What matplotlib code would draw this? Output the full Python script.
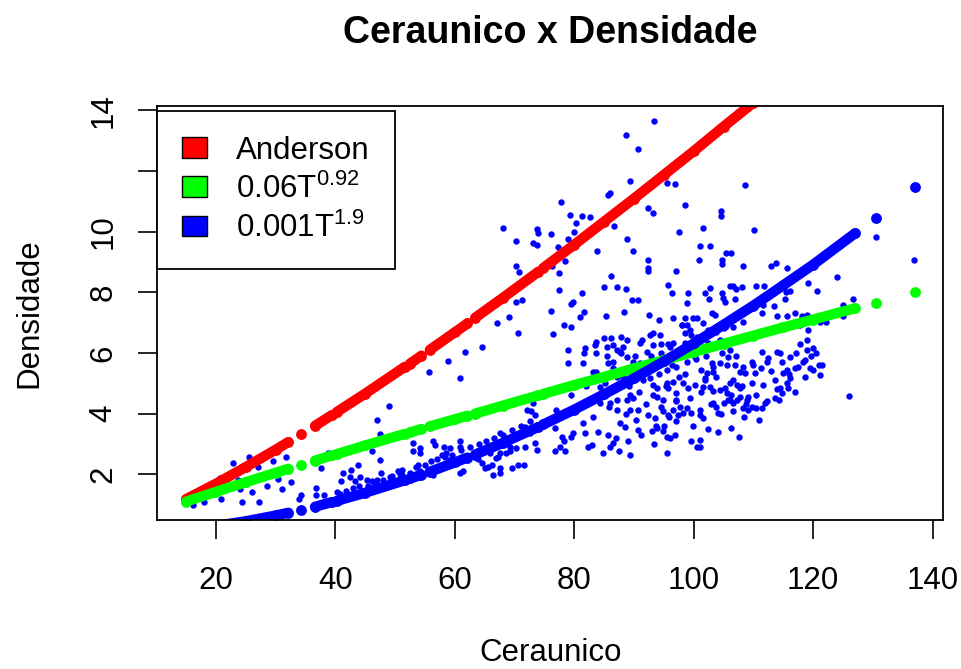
import matplotlib
matplotlib.use("Agg")
import matplotlib.pyplot as plt
from matplotlib.patches import Patch
import numpy as np

nan = np.nan

# dados observados (Ceraunico T, densidade)
ceraunico = [
    22.9, 25.5, 27.1, 29.5, 31.7, 20.7, 23.6, 25.7, 27.1, 30.4, 20.8, 24.4, 27.2, 16.1, 17.9,
    34.3, 33.9, 38.7, 37.5, 36.8, 38.0, 36.7, 48.9, 46.9, 47.5, 44.4, 46.1, 47.5, 43.8, 42.6,
    41.0, 40.2, 42.4, 43.3, 44.1, 45.2, 46.1, 46.9, 47.7, 49.1, 50.5, 51.1, 41.3,
    93.4, 88.6, 90.7, 89.4, 95.6, 96.9, 86.0, 85.7, 77.8, 68.1, 70.3, 73.7, 73.9, 73.0, 73.7,
    76.1, 79.3, 81.3, 82.7, 80.3, 79.9, 78.9, 77.3, 78.4, 76.2, 77.5, 70.2, 70.7, 92.3, 93.2,
    86.6, 88.8, 89.8, 83.8, 97.5, 92.4, 92.4, 92.4, 97.0, 86.2, 95.7, 96.3, 85.0, 87.2, 88.6,
    89.6, 90.6, 81.3, 77.4, 70.2, 71.3, 79.4, 79.8, 81.7, 76.1, 69.1, 80.9, 85.3, 88.4, 92.5,
    94.1, 96.6,
    67.0, 78.2, 79.5, 76.5, 70.5, 93.2, 92.7, 94.3, 91.4, 64.5, 61.7, 58.9, 85.0, 83.7, 83.5,
    86.2, 87.9, 88.8, 88.2, 87.1, 87.6, 81.8, 81.7, 79.0, 91.0, 92.1, 93.2, 94.6, 95.7, 96.6,
    83.7, 85.4, 86.5, 55.7, 60.8, 79.0, 81.5, 83.7, 83.1, 85.7, 86.5, 88.8, 89.9, 91.0, 94.3,
    95.5, 97.1, 85.4, 87.1, 92.7, 93.2, 93.8, 95.5, 96.6, 95.7, 97.1, 79.5, 84.3, 89.3, 89.9,
    88.8, 87.1, 86.0, 93.8, 94.9, 97.1, 72.0, 72.8, 73.4, 73.1, 77.0, 87.1, 89.3, 90.7, 92.4,
    93.5, 94.6, 95.7, 96.6, 97.4, 83.2, 84.3, 67.5, 69.2, 71.7, 72.6, 76.8, 77.9, 79.8, 81.4,
    81.8, 79.5, 78.2, 77.6, 78.4, 76.8, 85.7, 88.5, 90.7, 93.0, 93.8, 94.9, 95.5, 96.0, 97.1,
    53.0, 54.1, 56.4, 56.7, 58.1, 60.8, 53.0, 54.1, 59.2, 60.8, 73.4, 73.7, 71.7, 69.2, 69.2,
    67.5, 67.3, 65.8, 82.9, 82.3, 84.8, 86.5, 86.0, 87.5, 89.3, 95.5, 53.9, 57.8, 58.3, 59.2,
    60.0, 60.8, 61.4, 65.6, 66.2, 64.5, 65.0, 67.5, 67.5, 66.4, 69.5, 70.6, 71.5, 51.1, 52.5,
    54.1, 55.8, 57.5, 56.4,
    98.0, 98.5, 108.6, 104.5, 104.5, 101.6, 110.1, 101.0, 102.8, 105.4, 106.3, 104.7, 104.8,
    100.9, 108.3, 113.0, 113.7, 115.6, 119.2, 120.6, 124.0, 130.5, 136.9, 99.1, 98.9, 101.9,
    102.7, 102.6, 104.8, 104.9, 105.2, 106.1, 106.6, 107.1, 108.0, 106.9, 110.4, 111.8, 113.4,
    115.4, 116.1, 115.3, 103.0, 103.6, 98.5, 99.9, 100.5, 111.1, 111.6, 111.4, 113.9, 115.6,
    116.9, 118.1, 118.9, 125.0, 126.7, 125.0,
    98.0, 98.8, 99.4, 98.5, 99.6, 100.5, 101.6, 102.4, 103.0, 103.8, 105.0, 106.6, 108.3,
    117.8, 119.2, 121.1, 122.2, 98.5, 99.9, 101.3, 102.4, 104.4, 106.1, 109.4, 111.4, 112.5,
    112.2, 113.9, 114.4, 116.1, 117.2, 117.5, 117.0, 118.3, 118.9, 118.9, 120.0, 119.5, 120.0,
    120.9, 121.1, 118.6, 98.8, 99.6, 100.2, 101.3, 102.2, 103.3, 101.9, 103.0, 103.3, 104.4,
    104.7, 105.8, 106.9, 107.7, 108.3, 108.6, 109.7, 110.0, 110.2, 111.6, 113.6, 114.4, 115.6,
    115.8, 115.0, 116.1, 115.6, 114.7, 113.6, 114.2, 98.2, 99.1, 100.2, 101.6, 101.9, 102.7,
    103.3, 104.4, 105.2, 106.1, 106.6, 107.2, 107.7, 105.5, 106.1, 106.6, 107.2, 107.7, 108.9,
    109.1, 97.7, 98.8, 98.2, 99.6, 101.0, 101.0, 101.6, 103.3, 103.8, 104.1, 105.0, 105.8,
    106.6, 108.3, 109.1, 109.7, 110.5, 111.4, 111.9, 106.3, 107.6, 99.6, 101.0, 101.0, 126.0,
    84.5, 85.2, 85.8, 86.4, 87.0, 87.6, 88.1, 88.7, 89.2, 89.8, 90.3, 90.9, 91.5, 92.0, 92.6,
    93.1, 93.7, 94.2, 94.8, 95.3, 95.9, 96.4, 97.0, 97.6, 84.0, 86.9, 89.0, 91.2, 93.3, 95.1,
    96.8, 85.5, 87.9, 90.1, 92.9, 94.5, 96.1, 82.5, 83.4, 81.9,
    98.6, 99.4, 100.3, 101.2, 102.0, 102.9, 103.8, 104.6, 105.5, 106.3, 107.1, 108.0, 108.8,
    109.7, 110.5, 111.3, 112.2, 113.0, 113.9, 114.8, 116.0, 116.9, 117.8, 118.7, 119.6, 120.5,
    121.5, 99.8, 102.4, 104.0, 100.5, 108.5, 110.9,
    40.8, 41.7, 42.9, 44.0, 45.5, 46.5, 48.0, 49.5, 50.8, 53.5, 55.0, 56.0, 57.0, 58.5, 59.5,
    61.0, 62.5, 64.0, 65.2, 66.5, 68.0, 69.5, 71.0, 72.5, 63.8, 66.8, 68.5, 70.2,
    18.5, 19.5, 21.5, 22.5, 24.0, 26.0, 28.5, 31.0, 32.5,
]
densidade = [
    2.38, 2.58, 2.23, 2.45, 2.56, 1.87, 1.81, 1.78, 1.85, 1.85, 1.19, 1.10, 1.10, 0.99, 1.07,
    1.32, 1.18, 2.71, 2.20, 1.54, 1.32, 1.32, 4.26, 3.79, 3.33, 2.99, 2.75, 2.47, 2.31, 2.14,
    1.79, 1.43, 1.92, 1.76, 1.92, 1.81, 1.76, 1.81, 2.03, 1.92, 2.09, 1.98, 2.03,
    13.64, 13.17, 12.72, 11.67, 11.59, 11.57, 11.26, 11.21, 10.97, 10.13, 9.70, 10.09, 9.95,
    9.62, 9.56, 9.91, 10.55, 10.52, 10.47, 10.28, 9.97, 9.77, 9.48, 9.03, 8.85, 8.65, 8.88,
    8.66, 10.79, 10.62, 10.20, 9.75, 9.37, 9.37, 9.99, 9.07, 8.79, 8.71, 8.71, 8.54, 8.23,
    7.97, 8.17, 8.16, 8.11, 7.75, 7.75, 7.99, 8.06, 7.68, 7.76, 7.60, 7.69, 7.36, 7.39, 7.17,
    7.17, 7.22, 7.35, 7.25, 7.09, 7.14,
    6.98, 6.92, 6.87, 6.62, 6.65, 6.65, 6.59, 6.59, 6.43, 6.21, 6.02, 5.74, 6.48, 6.37, 6.26,
    6.48, 6.52, 6.43, 6.21, 6.10, 6.04, 6.15, 5.99, 6.10, 6.32, 6.04, 6.26, 6.29, 6.29, 6.32,
    5.99, 6.21, 6.26, 5.38, 5.17, 5.66, 5.66, 5.38, 5.38, 5.68, 5.71, 5.86, 5.71, 5.66, 5.66,
    5.44, 5.55, 5.22, 5.22, 5.16, 4.94, 4.83, 5.00, 5.05, 4.83, 4.67, 4.61, 4.89, 4.61, 4.50,
    4.45, 4.45, 4.34, 4.56, 4.45, 4.45, 4.12, 4.07, 3.96, 4.34, 4.12, 4.12, 4.12, 4.12, 3.96,
    3.85, 4.23, 3.96, 4.12, 3.96, 3.90, 4.34, 3.35, 3.24, 3.57, 3.35, 3.52, 3.24, 3.35, 3.68,
    3.35, 3.24, 3.08, 2.91, 2.75, 2.75, 3.30, 3.57, 3.46, 3.41, 3.52, 3.41, 3.24, 3.19, 3.74,
    3.02, 2.86, 3.08, 2.97, 2.91, 3.08, 2.75, 2.69, 2.86, 2.91, 3.02, 2.80, 2.91, 2.91, 2.75,
    2.69, 2.58, 2.69, 2.97, 2.91, 2.69, 3.02, 2.91, 2.75, 2.64, 2.69, 2.31, 2.64, 2.58, 2.47,
    2.36, 2.03, 2.09, 2.25, 2.31, 2.36, 2.20, 2.20, 2.03, 1.98, 2.20, 2.31, 2.31, 2.14, 2.03,
    2.09, 2.14, 2.20, 1.98,
    6.92, 10.88, 11.52, 10.69, 10.50, 10.13, 10.06, 9.51, 9.53, 9.29, 9.29, 9.07, 8.92,
    9.07, 8.87, 8.88, 8.96, 8.79, 8.32, 8.05, 8.49, 9.83, 9.07, 7.99, 7.64, 7.99,
    8.13, 7.78, 7.97, 7.80, 7.69, 8.19, 8.19, 8.11, 8.16, 7.78, 8.21, 8.19, 7.55,
    8.02, 8.05, 7.79, 7.31, 7.25, 7.14, 7.14, 7.14, 7.64, 7.58, 7.31, 7.20, 7.20,
    7.31, 7.20, 7.25, 7.58, 7.77, 7.20,
    6.92, 6.92, 6.76, 6.65, 6.59, 6.54, 6.98, 6.76, 6.65, 6.70, 6.81, 6.87, 7.03,
    6.92, 6.76, 7.03, 7.03, 6.32, 6.37, 6.43, 6.32, 6.43, 6.10, 6.54, 6.04, 5.82,
    5.71, 6.04, 5.99, 5.88, 5.99, 5.55, 5.49, 5.71, 6.10, 6.43, 6.15, 5.49, 5.44,
    5.60, 5.27, 5.77, 5.71, 5.99, 5.88, 5.44, 5.33, 5.38, 5.16, 5.66, 5.55, 5.66,
    5.99, 5.88, 5.60, 5.38, 5.55, 5.33, 5.71, 5.60, 5.33, 4.94, 5.11, 4.83, 5.00,
    4.83, 5.33, 5.16, 5.44, 4.67, 4.51, 4.45, 5.00, 4.83, 4.94, 4.89, 5.11, 4.89,
    4.73, 4.78, 4.83, 5.00, 5.11, 4.94, 4.83, 4.67, 4.45, 4.34, 4.45, 4.56, 4.45,
    4.56, 4.23, 4.18, 4.01, 4.01, 4.12, 3.96, 3.85, 4.34, 4.23, 4.01, 4.34, 4.45,
    4.07, 4.18, 4.12, 4.23, 4.18, 4.18, 4.34, 3.54, 3.22, 3.10, 3.13, 2.91, 4.58,
    4.60, 5.00, 4.20, 5.50, 4.80, 3.70, 5.20, 4.00, 4.90, 5.40, 3.80, 4.70, 5.10, 4.30, 5.60,
    4.60, 3.60, 5.30, 4.10, 4.90, 3.90, 5.60, 4.40, 5.20, 3.40, 3.20, 3.10, 3.30, 3.00, 3.60,
    3.30, 5.90, 6.00, 5.90, 5.90, 6.00, 6.20, 4.40, 5.10, 4.90,
    5.30, 4.50, 5.80, 4.70, 5.90, 4.30, 5.20, 4.00, 5.60, 4.60, 5.90, 4.90, 4.30,
    5.00, 4.60, 5.50, 4.40, 5.40, 4.80, 5.70, 5.30, 4.70, 6.30, 5.20, 5.90, 6.00,
    5.60, 3.60, 3.50, 3.40, 2.90, 3.90, 3.80,
    1.35, 1.45, 1.55, 1.60, 1.62, 1.75, 1.82, 1.95, 2.00, 2.25, 2.30, 2.45, 2.50, 2.70, 2.65,
    2.80, 2.90, 3.00, 3.10, 3.20, 3.30, 3.45, 3.60, 3.75, 2.50, 2.55, 2.70, 2.85,
    1.35, 1.55, 1.50, 1.65, 1.50, 1.40, 1.60, 1.50, 1.75,
]

curva_T = [15, 20, 25, 30, 32.1, nan, 34.3, nan, 36.6, 39.4, nan, 40.2, 45, 51.6, nan,
           52.5, 54.4, nan, 55.8, 60, 62.1, nan, 63.4, 68, 74.0, nan, 74.8, 80, 85, 90,
           95, 100, 105, 110, 115, 120, 127, nan, 130.5, nan, 137]
anderson = [1.18, 1.69, 2.24, 2.81, 3.06, nan, 3.32, nan, 3.60, 3.95, nan, 4.05, 4.66, 5.54, nan,
            5.65, 5.91, nan, 6.10, 6.68, 6.97, nan, 7.16, 7.81, 8.68, nan, 8.80, 9.57, 10.33, 11.09,
            11.87, 12.65, 13.46, 14.25, nan, nan, nan, nan, nan, nan, nan]
ajuste1 = [1.10, 1.42, 1.74, 2.05, 2.18, nan, 2.31, nan, 2.45, 2.62, nan, 2.66, 2.95, 3.33, nan,
           3.38, 3.49, nan, 3.58, 3.81, 3.93, nan, 4.00, 4.26, 4.60, nan, 4.65, 4.94, 5.21, 5.49,
           5.76, 6.03, 6.30, 6.57, 6.84, 7.10, 7.47, nan, 7.66, nan, 8.00]
ajuste2 = [0.17, 0.30, 0.45, 0.64, 0.73, nan, 0.83, nan, 0.93, 1.08, nan, 1.12, 1.39, 1.80, nan,
           1.86, 1.98, nan, 2.08, 2.39, 2.55, nan, 2.65, 3.03, 3.56, nan, 3.64, 4.13, 4.64, 5.16,
           5.72, 6.31, 6.93, 7.56, 8.23, 8.91, 9.94, nan, 10.46, nan, 11.47]

rotulos = ['Anderson', r'0.06T$^{0.92}$', r'0.001T$^{1.9}$']
cores = ['#FF0000', '#00FF00', '#0000FF']

plt.rcParams['font.family'] = ['Liberation Sans', 'DejaVu Sans']
plt.rcParams['mathtext.default'] = 'regular'

fig = plt.figure(figsize=(9.61, 6.69), dpi=100)
ax = fig.add_axes([0.1637, 0.2227, 0.8179, 0.6193])

ax.plot(ceraunico, densidade, 'o', color='#0000FF', ms=4.6, mew=0)
for y, c in zip([anderson, ajuste1, ajuste2], cores):
    ax.plot(curva_T, y, '-o', color=c, lw=7.4, ms=7.8, mew=0,
            solid_capstyle='round', solid_joinstyle='round')

ax.set_xlim(10.16, 141.8)
ax.set_ylim(0.49, 14.15)
ax.set_xticks([20, 40, 60, 80, 100, 120, 140])
ax.set_yticks([2, 4, 6, 8, 10, 12, 14])
ax.set_yticklabels(['2', '4', '6', '8', '10', '', '14'], rotation=90, va='center')
ax.tick_params(length=14, width=1.2, labelsize=22.5)
ax.tick_params(axis='x', pad=19)
ax.tick_params(axis='y', pad=14)
for s in ax.spines.values():
    s.set_linewidth(1.3)

ax.set_title('Ceraunico x Densidade', fontsize=27, fontweight='bold', pad=45)
ax.set_xlabel('Ceraunico', fontsize=22.5)
ax.xaxis.set_label_coords(0.5, -0.285)
ax.set_ylabel('Densidade', fontsize=22.5)
ax.yaxis.set_label_coords(-0.144, 0.5)

handles = [Patch(facecolor=c, edgecolor='black', lw=1) for c in cores]
leg = ax.legend(handles, rotulos, loc='upper left', bbox_to_anchor=(0, 0.988),
                borderaxespad=0, fontsize=22.5, handlelength=0.8, handleheight=0.64,
                handletextpad=0.93, labelspacing=0.25, borderpad=0.8,
                fancybox=False, framealpha=1, edgecolor='black')
leg.get_frame().set_linewidth(1.3)

fig.savefig('out.png', dpi=100)
